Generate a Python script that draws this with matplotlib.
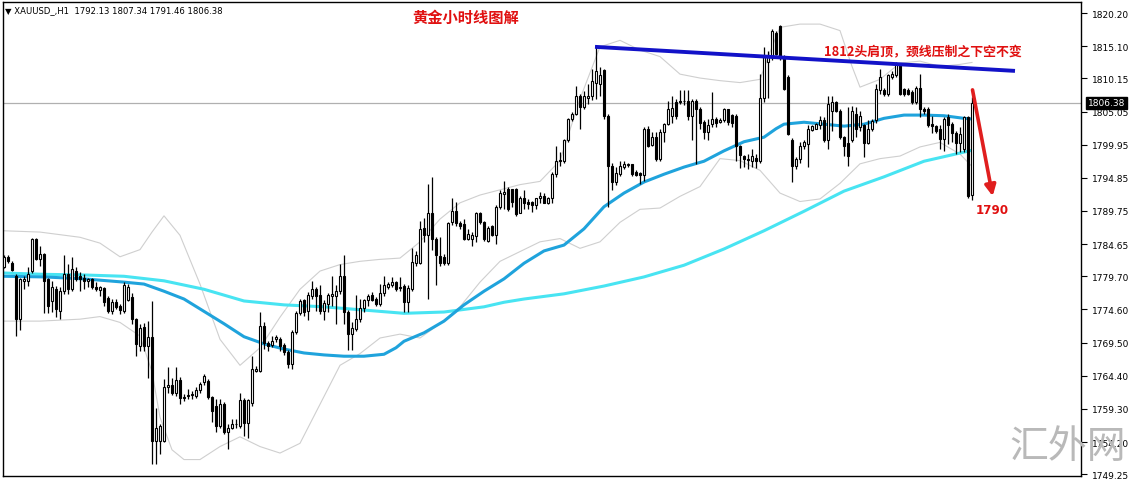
import matplotlib
matplotlib.use("Agg")
import matplotlib.pyplot as plt
import numpy as np

# hourly XAUUSD candles (open, high, low, close)
opens = [1781.2, 1782.6, 1781.8, 1779.8, 1773.1, 1779.0, 1779.0, 1780.5, 1785.5, 1782.4,
         1783.1, 1779.3, 1775.9, 1777.7, 1774.4, 1777.5, 1780.0, 1777.7, 1780.5, 1779.8,
         1779.5, 1778.9, 1779.3, 1778.1, 1777.6, 1777.9, 1776.4, 1774.3, 1775.8, 1775.2,
         1774.4, 1776.0, 1776.5, 1773.2, 1769.0, 1771.9, 1768.9, 1770.4, 1754.4, 1754.4,
         1754.4, 1762.6, 1762.9, 1761.8, 1763.7, 1761.1, 1761.3, 1761.4, 1761.3, 1762.2,
         1763.4, 1763.6, 1761.1, 1759.8, 1756.7, 1760.0, 1755.7, 1756.3, 1756.9, 1756.7,
         1760.6, 1757.1, 1760.2, 1765.2, 1765.2, 1772.1, 1769.4, 1769.1, 1770.0, 1770.0,
         1769.1, 1768.1, 1766.2, 1771.2, 1774.1, 1776.0, 1774.4, 1776.7, 1777.8, 1776.8,
         1774.4, 1775.5, 1776.6, 1776.7, 1777.5, 1779.8, 1774.2, 1770.8, 1771.6, 1773.1,
         1774.8, 1776.0, 1776.8, 1776.2, 1775.5, 1777.2, 1778.0, 1778.3, 1778.8, 1778.0,
         1778.2, 1775.7, 1777.8, 1781.8, 1781.7, 1787.2, 1786.0, 1789.5, 1785.4, 1782.8,
         1782.7, 1781.7, 1788.0, 1789.8, 1787.9, 1787.7, 1785.4, 1785.5, 1785.9, 1789.5,
         1788.1, 1785.2, 1787.4, 1786.0, 1790.3, 1792.4, 1793.1, 1793.1, 1793.1, 1789.5,
         1791.7, 1791.2, 1791.1, 1790.7, 1791.7, 1792.0, 1791.0, 1791.7, 1795.4, 1797.4,
         1797.4, 1800.6, 1803.9, 1804.7, 1807.4, 1805.7, 1807.2, 1807.4, 1809.5, 1809.3,
         1811.4, 1804.4, 1796.7, 1794.2, 1795.5, 1796.5, 1796.8, 1796.9, 1795.7, 1795.6,
         1795.3, 1802.4, 1799.9, 1801.1, 1797.8, 1801.9, 1803.1, 1804.3, 1806.5, 1806.7,
         1806.6, 1806.7, 1804.4, 1806.7, 1805.5, 1803.4, 1801.9, 1803.1, 1803.9, 1803.4,
         1803.7, 1805.4, 1804.5, 1804.4, 1799.8, 1798.2, 1797.8, 1797.5, 1797.9, 1797.4,
         1807.2, 1812.6, 1813.4, 1817.2, 1818.2, 1813.4, 1810.3, 1800.6, 1796.7, 1797.7,
         1799.7, 1800.0, 1802.2, 1802.4, 1802.9, 1803.8, 1800.7, 1805.2, 1806.5, 1805.2,
         1801.1, 1800.2, 1800.6, 1804.7, 1802.6, 1803.0, 1800.2, 1802.4, 1803.8, 1808.3,
         1808.4, 1807.7, 1810.3, 1810.6, 1812.4, 1808.5, 1808.4, 1808.0, 1806.5, 1808.7,
         1805.4, 1805.4, 1803.1, 1802.8, 1802.4, 1800.8, 1804.2, 1803.1, 1801.7, 1800.2,
         1799.3, 1804.2, 1792.13]
highs = [1782.9, 1782.9, 1782.0, 1780.0, 1779.5, 1779.8, 1781.1, 1785.6, 1785.6, 1784.4,
         1783.3, 1779.5, 1779.0, 1778.2, 1778.0, 1782.9, 1781.6, 1782.6, 1781.1, 1780.3,
         1780.0, 1779.5, 1779.5, 1778.8, 1778.2, 1778.0, 1776.7, 1776.2, 1776.2, 1775.5,
         1778.8, 1778.5, 1777.2, 1773.3, 1772.3, 1772.5, 1772.8, 1775.9, 1759.5, 1756.9,
         1763.9, 1765.7, 1764.1, 1765.7, 1764.2, 1761.6, 1762.3, 1762.1, 1762.6, 1763.5,
         1764.7, 1763.9, 1761.3, 1760.8, 1760.8, 1760.3, 1757.0, 1757.7, 1757.7, 1761.8,
         1760.9, 1760.8, 1767.5, 1765.9, 1774.2, 1772.6, 1769.8, 1770.5, 1770.6, 1770.3,
         1769.4, 1768.3, 1771.5, 1774.4, 1776.2, 1776.2, 1777.3, 1779.0, 1778.0, 1778.3,
         1776.0, 1777.2, 1779.8, 1778.3, 1781.6, 1782.9, 1774.5, 1772.6, 1776.8, 1776.2,
         1776.2, 1777.0, 1777.3, 1776.5, 1778.5, 1779.8, 1778.8, 1779.6, 1779.0, 1779.6,
         1778.5, 1778.3, 1784.0, 1783.6, 1788.2, 1788.6, 1793.9, 1794.9, 1785.7, 1785.7,
         1783.1, 1788.1, 1791.7, 1791.1, 1788.2, 1788.5, 1786.9, 1786.5, 1789.6, 1789.6,
         1788.2, 1787.5, 1787.6, 1790.6, 1792.9, 1794.4, 1793.4, 1793.2, 1793.3, 1792.1,
         1792.9, 1791.6, 1791.3, 1791.8, 1792.7, 1792.5, 1791.9, 1795.7, 1799.7, 1798.8,
         1800.8, 1804.1, 1804.9, 1809.0, 1807.7, 1808.2, 1809.3, 1811.6, 1815.1, 1811.9,
         1811.6, 1804.6, 1797.2, 1796.5, 1797.5, 1797.4, 1797.2, 1797.0, 1796.0, 1795.8,
         1802.6, 1802.8, 1801.9, 1801.9, 1802.4, 1803.3, 1806.7, 1807.5, 1807.0, 1808.4,
         1808.3, 1808.3, 1807.0, 1807.0, 1805.7, 1803.7, 1803.9, 1808.1, 1804.2, 1804.0,
         1805.6, 1805.5, 1804.7, 1804.7, 1799.9, 1798.4, 1798.5, 1799.3, 1798.5, 1810.8,
         1814.9, 1814.4, 1817.8, 1817.5, 1818.4, 1813.7, 1810.6, 1801.0, 1798.0, 1800.3,
         1800.6, 1802.9, 1803.0, 1803.3, 1804.4, 1804.2, 1807.5, 1807.5, 1806.7, 1805.4,
         1801.3, 1805.7, 1805.9, 1805.7, 1805.2, 1803.1, 1803.8, 1803.9, 1809.3, 1811.6,
         1808.7, 1810.8, 1811.3, 1812.6, 1812.5, 1808.7, 1808.6, 1808.3, 1808.9, 1810.8,
         1805.7, 1805.7, 1804.4, 1803.0, 1802.9, 1804.2, 1804.7, 1803.5, 1802.1, 1802.6,
         1804.4, 1804.4, 1807.34]
lows = [1780.9, 1781.7, 1780.5, 1770.5, 1771.4, 1777.7, 1778.2, 1780.2, 1782.2, 1781.3,
        1774.0, 1774.0, 1774.2, 1773.4, 1773.1, 1777.0, 1777.0, 1777.5, 1779.0, 1777.5,
        1777.7, 1778.0, 1777.7, 1777.5, 1776.7, 1775.2, 1774.0, 1773.9, 1774.7, 1773.9,
        1774.1, 1775.9, 1772.3, 1767.5, 1768.2, 1768.2, 1764.1, 1750.8, 1750.8, 1752.4,
        1754.2, 1761.8, 1761.5, 1761.3, 1760.0, 1760.5, 1760.8, 1760.8, 1761.0, 1761.8,
        1763.0, 1760.8, 1757.3, 1755.7, 1756.4, 1755.5, 1753.2, 1756.2, 1756.4, 1756.4,
        1755.2, 1754.8, 1759.8, 1764.9, 1764.9, 1768.5, 1768.2, 1768.8, 1769.6, 1768.2,
        1767.6, 1765.6, 1765.4, 1770.8, 1773.8, 1773.6, 1772.9, 1776.2, 1774.4, 1773.9,
        1772.9, 1774.2, 1775.2, 1772.4, 1777.0, 1772.4, 1768.3, 1768.3, 1771.3, 1772.6,
        1774.2, 1775.2, 1775.9, 1775.2, 1775.2, 1776.7, 1777.8, 1778.0, 1777.5, 1777.5,
        1774.2, 1774.2, 1777.5, 1781.3, 1781.6, 1784.9, 1776.2, 1783.8, 1778.3, 1781.3,
        1781.4, 1781.4, 1787.6, 1787.5, 1786.9, 1785.3, 1785.3, 1784.3, 1784.9, 1787.7,
        1785.2, 1785.0, 1785.9, 1784.7, 1790.0, 1790.0, 1789.8, 1790.3, 1789.0, 1789.4,
        1790.0, 1790.0, 1789.6, 1790.0, 1791.0, 1790.9, 1790.8, 1791.0, 1795.0, 1796.7,
        1797.2, 1800.4, 1803.6, 1804.5, 1802.4, 1805.4, 1806.2, 1806.8, 1807.0, 1807.5,
        1803.9, 1790.3, 1792.9, 1793.7, 1795.2, 1796.2, 1796.5, 1795.2, 1795.2, 1793.9,
        1794.4, 1799.6, 1799.8, 1797.5, 1797.5, 1800.3, 1802.9, 1803.3, 1803.9, 1806.2,
        1806.0, 1803.7, 1800.6, 1797.0, 1802.4, 1800.8, 1800.6, 1802.6, 1802.6, 1803.3,
        1803.4, 1802.9, 1802.6, 1797.5, 1796.3, 1796.5, 1796.2, 1796.5, 1796.3, 1797.1,
        1806.5, 1807.2, 1812.9, 1813.7, 1812.9, 1808.3, 1801.4, 1794.2, 1796.2, 1797.2,
        1799.3, 1796.5, 1802.1, 1802.4, 1802.4, 1800.4, 1799.3, 1802.1, 1804.9, 1800.8,
        1798.2, 1796.7, 1800.3, 1801.2, 1802.1, 1798.1, 1800.0, 1802.1, 1803.3, 1807.8,
        1807.5, 1807.5, 1810.0, 1810.3, 1807.6, 1807.4, 1807.6, 1806.2, 1806.2, 1804.2,
        1804.7, 1802.6, 1801.8, 1801.8, 1799.3, 1799.0, 1800.0, 1800.3, 1798.5, 1798.8,
        1798.8, 1791.8, 1791.46]
closes = [1782.6, 1782.0, 1780.6, 1773.1, 1779.3, 1779.3, 1780.0, 1785.5, 1782.4, 1783.1,
          1779.0, 1775.2, 1778.0, 1774.6, 1777.5, 1780.0, 1777.7, 1780.8, 1779.3, 1779.3,
          1779.0, 1779.3, 1778.0, 1777.7, 1778.1, 1775.7, 1774.3, 1775.7, 1775.0, 1774.5,
          1778.3, 1778.0, 1773.1, 1769.3, 1771.8, 1768.9, 1770.4, 1754.4, 1756.3, 1756.7,
          1762.6, 1762.9, 1761.8, 1763.7, 1761.0, 1760.9, 1761.5, 1761.6, 1762.2, 1763.1,
          1764.4, 1761.1, 1758.9, 1756.7, 1760.0, 1755.7, 1756.4, 1757.0, 1756.9, 1760.6,
          1757.1, 1760.6, 1765.4, 1765.5, 1772.1, 1769.4, 1769.0, 1769.8, 1770.4, 1769.0,
          1768.0, 1766.2, 1771.2, 1774.1, 1775.9, 1774.2, 1776.8, 1777.8, 1776.7, 1774.4,
          1775.6, 1776.8, 1776.9, 1777.5, 1779.8, 1774.2, 1770.8, 1771.7, 1773.1, 1774.8,
          1776.0, 1776.7, 1776.1, 1775.5, 1777.2, 1778.3, 1778.5, 1778.8, 1777.8, 1777.9,
          1775.7, 1777.9, 1781.9, 1782.9, 1787.0, 1786.0, 1789.5, 1785.4, 1782.9, 1781.7,
          1781.7, 1787.9, 1789.8, 1787.9, 1787.4, 1785.4, 1786.2, 1786.1, 1789.5, 1788.0,
          1785.4, 1787.2, 1786.0, 1790.3, 1792.5, 1792.6, 1790.0, 1791.1, 1789.3, 1791.8,
          1791.0, 1790.8, 1790.7, 1791.7, 1792.0, 1791.0, 1791.8, 1795.4, 1797.5, 1797.6,
          1800.6, 1803.9, 1804.7, 1807.4, 1805.7, 1807.4, 1807.4, 1809.8, 1811.3, 1810.6,
          1804.4, 1796.7, 1794.2, 1795.6, 1796.7, 1797.0, 1797.0, 1795.5, 1795.3, 1795.3,
          1802.4, 1799.8, 1801.1, 1797.8, 1801.9, 1803.1, 1805.5, 1805.6, 1804.3, 1806.5,
          1806.7, 1804.4, 1806.7, 1805.5, 1803.3, 1801.9, 1803.0, 1803.9, 1803.3, 1803.8,
          1805.4, 1803.4, 1803.3, 1799.8, 1798.3, 1797.8, 1797.6, 1798.2, 1797.4, 1807.2,
          1813.5, 1813.7, 1817.5, 1813.9, 1813.4, 1808.5, 1801.6, 1796.7, 1797.8, 1799.8,
          1800.4, 1802.4, 1802.8, 1803.1, 1803.8, 1800.7, 1806.2, 1806.5, 1805.2, 1801.1,
          1799.8, 1798.2, 1805.2, 1802.4, 1804.4, 1800.2, 1802.4, 1803.6, 1808.5, 1810.3,
          1807.7, 1810.6, 1810.8, 1812.4, 1807.7, 1807.7, 1807.7, 1806.5, 1808.7, 1805.4,
          1805.1, 1802.9, 1802.8, 1802.1, 1800.8, 1803.9, 1803.0, 1801.8, 1800.2, 1801.6,
          1804.2, 1792.1, 1806.38]

# moving averages (candle index, price)
ma_fast_idx = [0, 10, 20, 30, 35, 40, 45, 50, 55, 60, 65, 70, 75, 80, 85, 90, 95, 98, 100,
               105, 110, 115, 120, 125, 130, 135, 140, 145, 150, 155, 160, 165, 170, 175,
               180, 185, 190, 193, 195, 200, 210, 215, 220, 225, 230, 235, 240, 242]
ma_fast = [1779.7, 1779.6, 1779.3, 1778.8, 1778.5, 1777.4, 1776.2, 1774.3, 1772.4, 1770.4,
           1769.3, 1768.5, 1767.9, 1767.6, 1767.4, 1767.4, 1767.7, 1768.7, 1769.7, 1771.0,
           1772.8, 1775.3, 1777.4, 1779.3, 1781.7, 1783.6, 1784.5, 1787.0, 1790.4, 1792.5,
           1794.2, 1795.4, 1796.5, 1797.4, 1799.0, 1800.4, 1801.1, 1802.4, 1803.1, 1803.4,
           1802.8, 1803.1, 1804.0, 1804.5, 1804.5, 1804.4, 1804.0, 1803.9]
ma_slow_idx = [0, 10, 20, 30, 40, 50, 60, 70, 80, 90, 100, 110, 120, 125, 130, 140, 150,
               160, 170, 180, 190, 195, 200, 210, 220, 230, 240, 242]
ma_slow = [1780.2, 1780.0, 1779.9, 1779.7, 1779.0, 1777.7, 1775.9, 1775.3, 1775.0, 1774.5,
           1774.0, 1774.2, 1775.0, 1775.7, 1776.2, 1777.0, 1778.2, 1779.6, 1781.4, 1783.9,
           1786.7, 1788.2, 1789.7, 1792.8, 1795.0, 1797.4, 1798.8, 1799.1]

# bollinger envelope (candle index, price)
bb_up_idx = [0, 9, 19, 24, 29, 34, 37, 40, 44, 49, 54, 59, 64, 69, 74, 79, 84, 89, 94, 99,
             104, 109, 114, 119, 124, 129, 134, 139, 144, 149, 154, 159, 164, 169, 174,
             179, 184, 189, 192, 194, 199, 204, 209, 212, 214, 219, 224, 229, 234, 239, 242]
bb_up = [1786.7, 1786.5, 1785.7, 1784.8, 1782.7, 1783.8, 1786.5, 1789.0, 1786.0, 1778.5,
         1770.0, 1766.0, 1768.7, 1773.4, 1777.7, 1780.5, 1781.5, 1782.0, 1782.3, 1782.5,
         1785.0, 1788.5, 1791.0, 1792.2, 1793.0, 1793.8, 1794.3, 1797.5, 1807.0, 1815.0,
         1816.0, 1814.5, 1813.5, 1810.8, 1810.2, 1809.8, 1809.5, 1810.0, 1815.0, 1818.0,
         1818.5, 1818.5, 1817.5, 1812.0, 1808.8, 1810.0, 1812.5, 1812.8, 1812.0, 1812.3,
         1812.6]
bb_lo_idx = [0, 9, 19, 24, 29, 34, 37, 39, 42, 45, 49, 54, 59, 64, 69, 74, 79, 84, 89, 94,
             99, 104, 109, 114, 119, 124, 129, 134, 139, 144, 149, 154, 159, 164, 169, 174,
             179, 184, 189, 194, 199, 204, 209, 214, 219, 224, 229, 234, 239, 242]
bb_lo = [1772.8, 1772.8, 1773.1, 1773.5, 1772.6, 1770.5, 1765.0, 1758.0, 1753.0, 1751.5,
         1751.5, 1753.5, 1755.0, 1753.5, 1752.5, 1754.0, 1760.0, 1766.0, 1767.8, 1770.2,
         1770.8, 1770.2, 1772.4, 1775.0, 1778.8, 1782.0, 1783.5, 1785.0, 1785.5, 1784.0,
         1785.0, 1788.0, 1790.0, 1790.2, 1792.0, 1793.5, 1797.8, 1797.5, 1796.0, 1792.5,
         1791.2, 1791.6, 1794.0, 1797.0, 1797.8, 1798.2, 1799.6, 1800.3, 1798.5, 1796.6]

price_ticks = [1820.20, 1815.10, 1810.15, 1805.05, 1799.95, 1794.85, 1789.75, 1784.65,
               1779.70, 1774.60, 1769.50, 1764.40, 1759.30, 1754.20, 1749.25]
last_price = 1806.38

neck_x = [147.75, 252.75]
neck_y = [1815.0, 1811.3]
arrow_from = (242, 1808.8)
arrow_to = (247.3, 1791.6)

W, H = 1136, 481
fig = plt.figure(figsize=(W / 100, H / 100), dpi=100)
ax = fig.add_axes([3 / W, 4 / H, 1078 / W, 474 / H])

o = np.array(opens); h = np.array(highs); l = np.array(lows); c = np.array(closes)
x = np.arange(len(o))

ax.plot(bb_up_idx, bb_up, color='#cfcfcf', lw=0.8, zorder=1)
ax.plot(bb_lo_idx, bb_lo, color='#cfcfcf', lw=0.8, zorder=1)
ax.axhline(last_price, color='#b0b0b0', lw=0.9, zorder=1)
ax.plot(ma_slow_idx, ma_slow, color='#48e4f2', lw=2.2, zorder=2)
ax.plot(ma_fast_idx, ma_fast, color='#1fa3dc', lw=2.2, zorder=2)

ax.vlines(x, l, h, color='black', lw=0.9, zorder=3)
up = c >= o
body = np.maximum(np.abs(c - o), 0.12)
bottom = np.minimum(o, c)
ax.bar(x[up], body[up], bottom=bottom[up], width=0.7, color='white',
       edgecolor='black', lw=0.8, zorder=4)
ax.bar(x[~up], body[~up], bottom=bottom[~up], width=0.7, color='black',
       edgecolor='black', lw=0.8, zorder=4)

ax.plot(neck_x, neck_y, color='#1212c8', lw=2.8, zorder=5, solid_capstyle='butt')
ax.annotate('', xy=arrow_to, xytext=arrow_from, zorder=6,
            arrowprops=dict(arrowstyle='-|>', color='#e01e1e', lw=2.6, mutation_scale=16))

cjk = ['Noto Sans CJK SC', 'DejaVu Sans']
ax.text(115.5, 1819.6, '黄金小时线图解', color='#e01010', fontsize=11, fontweight='bold',
        family=cjk, ha='center', va='center', zorder=7)
ax.text(205, 1814.3, '1812头肩顶，颈线压制之下空不变', color='#e01010', fontsize=9.3,
        fontweight='bold', family=cjk, ha='left', va='center', zorder=7)
ax.text(242.8, 1789.9, '1790', color='#e01010', fontsize=8.6, fontweight='bold',
        ha='left', va='center', zorder=7)

ax.set_xlim(-0.25, 269.25)
ax.set_ylim(1748.97, 1821.9)
ax.set_xticks([])
ax.yaxis.tick_right()
ax.set_yticks(price_ticks)
ax.set_yticklabels(['%.2f' % t for t in price_ticks])
ax.tick_params(axis='y', length=4, width=0.8, labelsize=6.5, pad=4, colors='black')
for s in ax.spines.values():
    s.set_linewidth(1.0)

ax.text(1.006, (last_price - 1748.97) / (1821.9 - 1748.97), '%.2f' % last_price,
        transform=ax.transAxes, fontsize=6.5, color='white', va='center', ha='left',
        bbox=dict(boxstyle='square,pad=0.2', fc='black', ec='black'), zorder=8)

fig.text(5 / W, 1 - 11 / H, '▼ XAUUSD_,H1  1792.13 1807.34 1791.46 1806.38',
         fontsize=6.1, va='center', ha='left')
fig.text(1068 / W, 1 - 447 / H, '汇外网', fontsize=28, color='#b9b9b9',
         family=cjk, ha='center', va='center', zorder=0)

fig.savefig('out.png', dpi=100)
